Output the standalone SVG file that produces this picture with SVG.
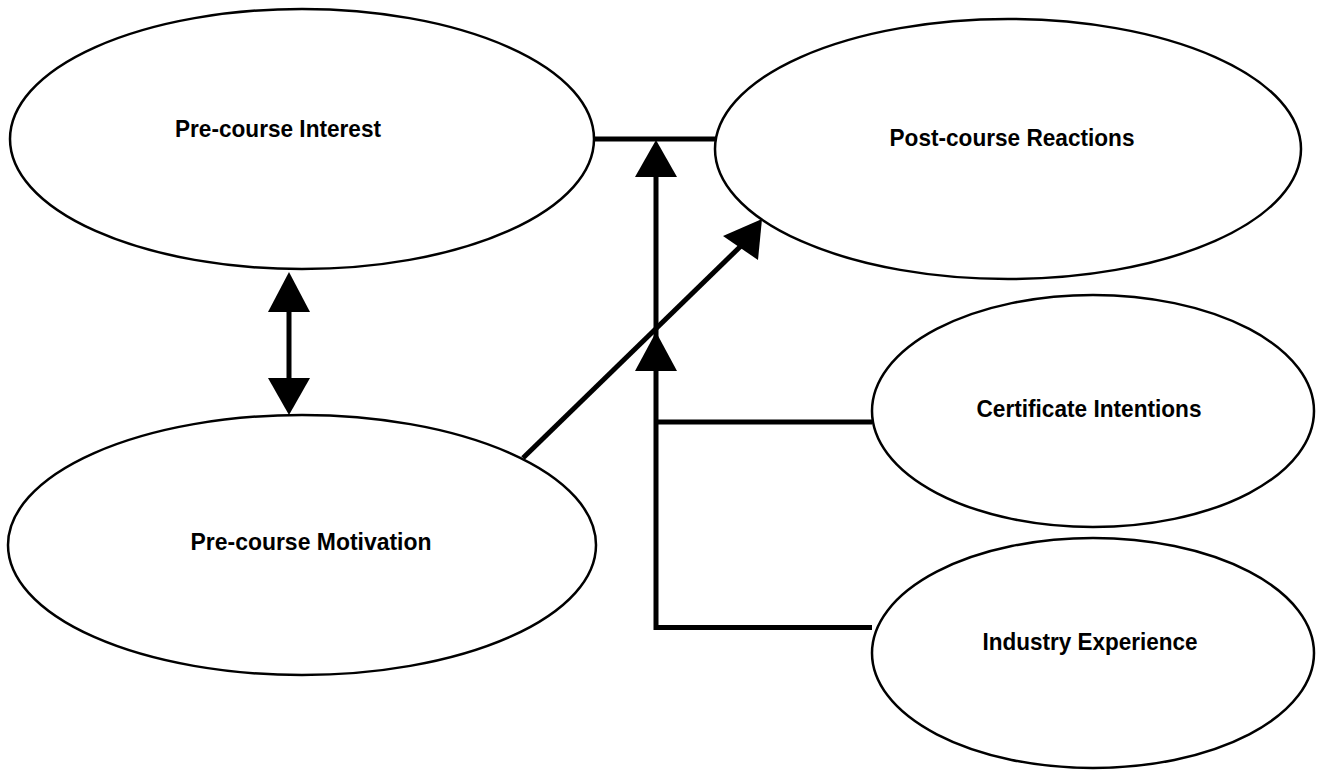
<svg xmlns="http://www.w3.org/2000/svg" width="1320" height="770" viewBox="0 0 1320 770">
<style>
  .node ellipse { fill: #ffffff; stroke: #000000; stroke-width: 2.5; }
  .node text { font-family: "Liberation Sans", Arial, sans-serif; font-weight: bold; font-size: 24px; fill: #000000; text-anchor: middle; }
  .conn line { stroke: #000000; stroke-width: 5; stroke-linecap: butt; }
  .conn polygon { fill: #000000; stroke: none; }
</style>
<rect x="0" y="0" width="1320" height="770" fill="#ffffff"/>
<g id="connectors" class="conn">
  <line x1="594" y1="139" x2="716" y2="139"/>
  <line x1="656" y1="630" x2="656" y2="170"/>
  <polygon points="656,140 677,177 635,177"/>
  <polygon points="656,332 677,371 635,371"/>
  <line x1="656" y1="422" x2="872" y2="422"/>
  <line x1="654" y1="627.5" x2="872" y2="627.5"/>
  <line x1="523" y1="458" x2="745" y2="242"/>
  <polygon points="762,219 758,260 723,236"/>
  <line x1="289" y1="300" x2="289" y2="390"/>
  <polygon points="289,272 310,312 268,312"/>
  <polygon points="289,415 310,378 268,378"/>
</g>
<g id="node-pre-interest" class="node">
  <ellipse cx="302" cy="139" rx="292" ry="130"/>
  <text x="278" y="137" textLength="206" lengthAdjust="spacingAndGlyphs">Pre-course Interest</text>
</g>
<g id="node-post-reactions" class="node">
  <ellipse cx="1008" cy="149" rx="293" ry="130"/>
  <text x="1012" y="146" textLength="245" lengthAdjust="spacingAndGlyphs">Post-course Reactions</text>
</g>
<g id="node-pre-motivation" class="node">
  <ellipse cx="302" cy="545" rx="294" ry="130"/>
  <text x="311" y="550" textLength="241" lengthAdjust="spacingAndGlyphs">Pre-course Motivation</text>
</g>
<g id="node-certificate" class="node">
  <ellipse cx="1093" cy="411" rx="221" ry="116"/>
  <text x="1089" y="417" textLength="225" lengthAdjust="spacingAndGlyphs">Certificate Intentions</text>
</g>
<g id="node-industry" class="node">
  <ellipse cx="1093" cy="653" rx="221" ry="115"/>
  <text x="1090" y="650" textLength="215" lengthAdjust="spacingAndGlyphs">Industry Experience</text>
</g>
</svg>
